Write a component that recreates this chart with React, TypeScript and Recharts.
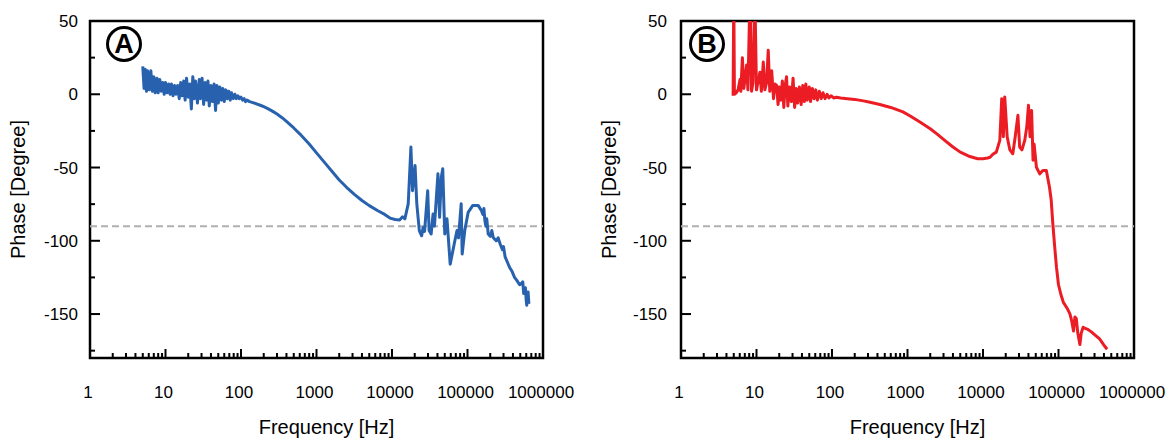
import React from "react";
import {
  LineChart,
  Line,
  XAxis,
  YAxis,
  ReferenceLine,
  ReferenceArea,
} from "recharts";

// ---------- axis ticks ----------
const X_MAJOR = [1, 10, 100, 1000, 10000, 100000, 1000000];
const X_LABELS = ["1", "10", "100", "1000", "10000", "100000", "1000000"];
const X_MINOR_MULT = [2, 3, 4, 5, 6, 7, 8, 9];
const Y_MAJOR = [-150, -100, -50, 0, 50];
const Y_LABELS = ["-150", "-100", "-50", "0", "50"];
const Y_MINOR = [-175, -125, -75, -25, 25];

// ---------- panel A (blue) ----------
const A_FREQ = [
  5.0, 5.2, 5.4, 5.6, 5.8, 6.1, 6.4, 6.7, 7.0, 7.3, 7.7, 8.0, 8.4, 8.8, 9.2, 9.6,
  10, 10.5, 11, 11.5, 12, 12.6, 13.2, 13.8, 14.5, 15.2, 15.9, 16.6, 17.4, 18.2, 19,
  20, 21, 22, 23, 24, 25, 26.5, 28, 29, 30.5, 32, 33.5, 35, 36.5, 38, 40, 42, 44,
  46, 48, 50, 52.5, 55, 57.5, 60, 63, 66, 69, 72, 75, 79, 83, 87, 91, 95, 100, 105,
  110, 115, 120, 130, 140, 160, 180, 200, 230, 260, 300, 350, 400, 500, 600, 800,
  1000, 1300, 1600, 2000, 2500, 3200, 4000, 5000, 6500, 8000, 9400, 11000, 12600,
  13800, 14800, 16400, 17800, 18700, 20200, 21300, 23000, 24700, 25800, 27000,
  29700, 31000, 33000, 35000, 36500, 40600, 42700, 45000, 47000, 50000, 53500,
  59000, 68000, 72600, 76000, 82500, 85000, 92000, 102000, 117000, 139000, 153000,
  160000, 165000, 170000, 175000, 180000, 188000, 200000, 210000, 219000, 240000,
  255000, 270000, 290000, 300000, 315000, 340000, 360000, 390000, 420000, 450000,
  490000, 520000, 540000, 555000, 570000, 585000, 600000, 610000, 620000, 635000,
  650000,
];
const A_PHASE = [
  19, 4, 17, 2, 16, 3, 16, 2, 12, 1, 11, 1, 10, 2, 8, 0,
  8, 1, 7, 0, 7, -1, 6, 0, 6, -3, 8, -1, 9, -4, 11,
  -2, 7, -10, 12, -3, 9, -6, 10, -3, 11, -7, 8, -4, 9, -8, 6, -5, 7,
  -11, 6, -6, 5, -4, 4, -5, 3, -3, 2, -4, 1, -3, 0, -3, -1, -3, -2, -4,
  -3, -5, -4, -5, -5.5, -6.5, -7.5, -8.5, -10, -11.5, -13.5, -16, -18.5, -23, -27, -34,
  -40, -47, -52.5, -58.5, -63.5, -68.5, -72.5, -76, -79.5, -82, -84.5, -85.5, -85.8,
  -83.6, -85, -74.8, -36, -65.8, -48.6, -74.7, -93, -96.6, -91, -93.6,
  -65.8, -93, -95.4, -81.7, -90, -54.3, -84, -56.6, -50.9, -95.4, -85,
  -116, -100, -93, -98, -74.7, -109, -93, -80.6, -76, -76, -79.4,
  -82, -78, -86.3, -90, -85, -95.4, -97, -93, -97.7, -100,
  -98, -102, -106, -104, -111, -115, -118, -121, -125, -127,
  -130, -129, -128, -136, -134, -132, -141, -144, -137, -135,
  -143,
];

// ---------- panel B (red) ----------
const B_FREQ = [
  4.9, 5.0, 5.1, 5.4, 5.7, 6.05, 6.2, 6.5, 6.8, 7.1, 7.4, 7.7, 8.2, 8.6, 9.0, 9.5,
  10, 10.5, 11.1, 11.6, 12.3, 12.9, 13.6, 14.3, 15, 15.9, 16.8, 17.6, 18.5, 19.3,
  20, 21, 22, 23, 24, 25, 26, 27.5, 29, 30.5, 32, 33.5, 35, 37, 39, 41, 43, 45, 47,
  50, 52, 55, 58, 61, 64, 68, 72, 76, 81, 86, 91, 97, 105, 115, 130, 160, 200, 260,
  320, 430, 600, 870, 1100, 1460, 2000, 2450, 3200, 4000, 5000, 6700, 8500, 10000,
  11500, 12400, 13500, 15000, 16700, 17700, 18600, 19400, 20900, 22700, 24800,
  26700, 29000, 30600, 32800, 35700, 38000, 40000, 42000, 44000, 46000, 47500,
  51000, 56500, 62000, 69000, 76000, 80000, 84000, 89000, 94000, 100000, 108000,
  116000, 130000, 142000, 150000, 158000, 165000, 172000, 180000, 192000, 200000,
  212000, 230000, 245000, 270000, 300000, 350000, 410000, 440000,
];
const B_PHASE = [
  -1, 70, 0, 1, 3, 10, 2, 25, 4, 12, 20, 3, 70, 2, 8, 70,
  3, 9, 15, 2, 22, 3, 8, 30, 2, 16, -3, 7, 6, -7,
  5, -4, 9, -9, 6, 12, -8, 5, -5, 11, -9, 4, -6, 5, -7, 6, -5, 7, -4,
  5, -5, 4, -3, 3, -4, 2, -3, 1, -3, 0, -2.5, -1, -2.5, -2, -2.5, -3, -3.5, -4.5,
  -5.5, -7, -9, -12, -15, -19, -23.5, -27, -32, -36, -39.5, -42.5, -44, -44,
  -43.5, -43, -41, -39.5, -31.5, -3, -29, -1.8, -29, -38, -40.6,
  -29, -14.4, -36, -38, -31.5, -22.4, -7.5, -29, -11, -45, -34,
  -49.8, -54.3, -52, -52, -63.5, -72, -88, -104, -118, -130, -137,
  -142, -146, -150, -155, -161.6, -152, -153, -163, -170.8, -163,
  -159, -160, -160.5, -162, -164, -167, -172, -174,
];

const FONT = '"Liberation Sans", Arial, Helvetica, sans-serif';

const xTicks: number[] = [];
X_MAJOR.forEach((m, i) => {
  xTicks.push(m);
  if (i < X_MAJOR.length - 1) X_MINOR_MULT.forEach((k) => xTicks.push(m * k));
});
const yTicks = [...Y_MAJOR, ...Y_MINOR].sort((a, b) => a - b);

const XTick = (props: any) => {
  const { x, y, payload } = props;
  const idx = X_MAJOR.indexOf(payload.value);
  if (idx >= 0) {
    return (
      <g>
        <line x1={x} x2={x} y1={y} y2={y - 9} stroke="#000" strokeWidth={2} />
        <text
          x={x - 2}
          y={y + 40}
          textAnchor="middle"
          fontSize={17}
          fontFamily={FONT}
          fill="#000"
        >
          {X_LABELS[idx]}
        </text>
      </g>
    );
  }
  return <line x1={x} x2={x} y1={y} y2={y - 5} stroke="#000" strokeWidth={2} />;
};

const makeYTick = (gap: number) => (props: any) => {
  const { x, y, payload } = props;
  const idx = Y_MAJOR.indexOf(payload.value);
  if (idx >= 0) {
    return (
      <g>
        <line x1={x} x2={x + 10} y1={y} y2={y} stroke="#000" strokeWidth={2} />
        <text
          x={x - gap}
          y={y + 6}
          textAnchor="end"
          fontSize={17}
          fontFamily={FONT}
          fill="#000"
        >
          {Y_LABELS[idx]}
        </text>
      </g>
    );
  }
  return <line x1={x} x2={x + 5} y1={y} y2={y} stroke="#000" strokeWidth={2} />;
};

type PanelProps = {
  freq: number[];
  phase: number[];
  color: string;
  left: number;
  width: number;
  yAxisWidth: number;
  rightMargin: number;
  yLabelOffset: number;
  tickGap: number;
  letter: string;
  letterX: number;
};

const Panel = (p: PanelProps) => {
  const data = p.freq.map((f, i) => ({ f, v: p.phase[i] }));
  return (
    <div style={{ position: "absolute", left: p.left, top: 0, width: p.width, height: 440 }}>
      <LineChart
        width={p.width}
        height={440}
        data={data}
        margin={{ top: 21, right: p.rightMargin, bottom: 0, left: 0 }}
      >
        <XAxis
          dataKey="f"
          type="number"
          scale="log"
          domain={[1, 1000000]}
          ticks={xTicks}
          interval={0}
          allowDataOverflow
          tick={XTick}
          tickLine={false}
          axisLine={false}
          tickSize={0}
          tickMargin={0}
          height={82}
          label={{
            value: "Frequency [Hz]",
            position: "insideBottom",
            offset: 6,
            dx: 10,
            style: { fontSize: 20, fontFamily: FONT, fill: "#000" },
          }}
        />
        <YAxis
          type="number"
          domain={[-180, 50]}
          ticks={yTicks}
          interval={0}
          allowDataOverflow
          tick={makeYTick(p.tickGap)}
          tickLine={false}
          axisLine={false}
          tickSize={0}
          tickMargin={0}
          width={p.yAxisWidth}
          label={{
            value: "Phase [Degree]",
            angle: -90,
            position: "insideLeft",
            offset: p.yLabelOffset,
            style: { fontSize: 20, fontFamily: FONT, fill: "#000", textAnchor: "middle" },
          }}
        />
        <ReferenceLine
          y={-90}
          stroke="#b0b0b0"
          strokeWidth={2}
          strokeDasharray="7 4"
        />
        <Line
          type="linear"
          dataKey="v"
          stroke={p.color}
          strokeWidth={3}
          dot={false}
          isAnimationActive={false}
          strokeLinejoin="round"
        />
        <ReferenceArea
          x1={1}
          x2={1000000}
          y1={-180}
          y2={50}
          fill="none"
          fillOpacity={0}
          stroke="#000"
          strokeWidth={2.5}
          ifOverflow="visible"
        />
      </LineChart>
      <div
        style={{
          position: "absolute",
          left: p.letterX - p.left - 18,
          top: 26,
          width: 36,
          height: 36,
          boxSizing: "border-box",
          border: "3px solid #000",
          borderRadius: "50%",
          display: "flex",
          alignItems: "center",
          justifyContent: "center",
          fontFamily: FONT,
          fontWeight: 700,
          fontSize: 27,
          lineHeight: 1,
          color: "#000",
          background: "#fff",
        }}
      >
        {p.letter}
      </div>
    </div>
  );
};

export default function App() {
  return (
    <div
      style={{
        position: "absolute",
        left: 0,
        top: 0,
        width: 1169,
        height: 440,
        background: "#fff",
        fontFamily: FONT,
      }}
    >
      <Panel
        freq={A_FREQ}
        phase={A_PHASE}
        color="#2862ae"
        left={0}
        width={590}
        yAxisWidth={90}
        rightMargin={47}
        yLabelOffset={18}
        tickGap={12}
        letter="A"
        letterX={124}
      />
      <Panel
        freq={B_FREQ}
        phase={B_PHASE}
        color="#ec1c24"
        left={590}
        width={579}
        yAxisWidth={91}
        rightMargin={35}
        yLabelOffset={19}
        tickGap={14}
        letter="B"
        letterX={707}
      />
    </div>
  );
}
